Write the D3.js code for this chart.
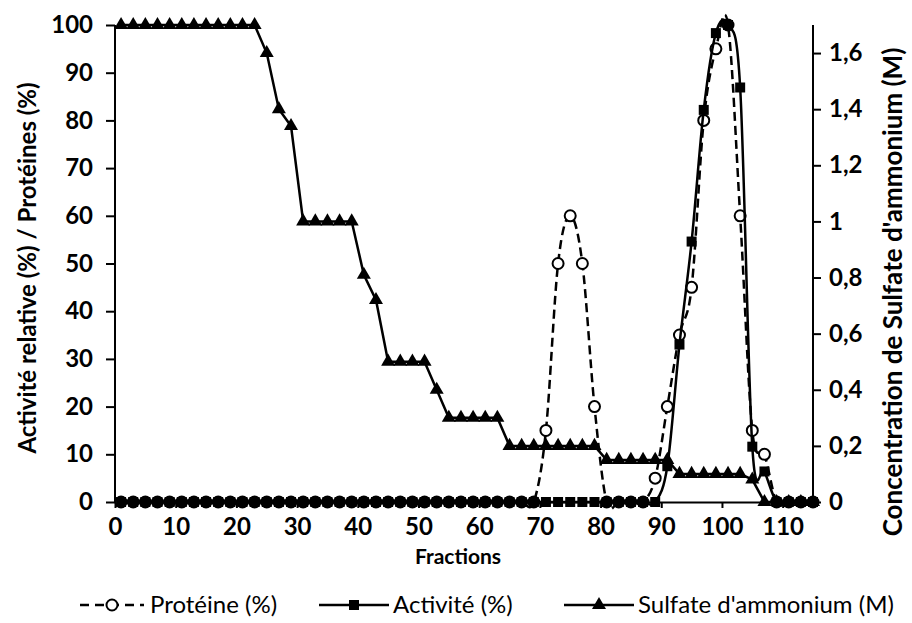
<!DOCTYPE html>
<html>
<head>
<meta charset="utf-8">
<script src="https://cdn.jsdelivr.net/npm/d3@7"></script>
<style>
  body { margin: 0; background: #fff; }
  text { font-family: Lato, "Open Sans", sans-serif; }
</style>
</head>
<body>
<div id="chart"></div>
<script>
// fractions (every second fraction was measured)
const fractions = [1, 3, 5, 7, 9, 11, 13, 15, 17, 19, 21, 23, 25, 27, 29, 31, 33, 35, 37, 39,
  41, 43, 45, 47, 49, 51, 53, 55, 57, 59, 61, 63, 65, 67, 69, 71, 73, 75, 77, 79,
  81, 83, 85, 87, 89, 91, 93, 95, 97, 99, 101, 103, 105, 107, 109, 111, 113, 115];

// Protéine (%)
const proteine = [0, 0, 0, 0, 0, 0, 0, 0, 0, 0, 0, 0, 0, 0, 0, 0, 0, 0, 0, 0,
  0, 0, 0, 0, 0, 0, 0, 0, 0, 0, 0, 0, 0, 0, 0, 15, 50, 60, 50, 20,
  0, 0, 0, 0, 5, 20, 35, 45, 80, 95, 100, 60, 15, 10, 0, 0, 0, 0];

// Activité (%)
const activite = [0, 0, 0, 0, 0, 0, 0, 0, 0, 0, 0, 0, 0, 0, 0, 0, 0, 0, 0, 0,
  0, 0, 0, 0, 0, 0, 0, 0, 0, 0, 0, 0, 0, 0, 0, 0, 0, 0, 0, 0,
  0, 0, 0, 0, 0, 7.5, 33, 54.6, 82.2, 98.3, 100, 86.9, 11.6, 6.4, 0, 0, 0, 0];

// Sulfate d'ammonium (M)
const sulfate = [1.7, 1.7, 1.7, 1.7, 1.7, 1.7, 1.7, 1.7, 1.7, 1.7, 1.7, 1.7, 1.6, 1.4, 1.34, 1, 1, 1, 1, 1,
  0.81, 0.72, 0.5, 0.5, 0.5, 0.5, 0.4, 0.3, 0.3, 0.3, 0.3, 0.3, 0.2, 0.2, 0.2, 0.2, 0.2, 0.2, 0.2, 0.2,
  0.15, 0.15, 0.15, 0.15, 0.15, 0.15, 0.1, 0.1, 0.1, 0.1, 0.1, 0.1, 0.08, 0, 0, 0, 0, 0];

const xTicks = [0, 10, 20, 30, 40, 50, 60, 70, 80, 90, 100, 110];
const leftTicks = [0, 10, 20, 30, 40, 50, 60, 70, 80, 90, 100];
const rightTicks = [0, 0.2, 0.4, 0.6, 0.8, 1, 1.2, 1.4, 1.6];

const W = 912, H = 623;
const pLeft = 115, pRight = 813, pTop = 25, pBottom = 502;

const svg = d3.select("#chart").append("svg")
    .attr("width", W)
    .attr("height", H)
    .attr("viewBox", "0 0 " + W + " " + H);

const x = d3.scaleLinear().domain([0, 115]).range([pLeft, pRight]);
const yL = d3.scaleLinear().domain([0, 100]).range([pBottom, pTop]);
const yR = d3.scaleLinear().domain([0, 1.7]).range([pBottom, pTop]);

// french decimal comma, "1" instead of "1,0"
const frNum = d => String(+d.toFixed(1)).replace(".", ",");

//axes
let gx = svg.append("g")
    .attr("transform", "translate(0," + pBottom + ")")
    .call(d3.axisBottom(x).tickValues(xTicks).tickSize(6).tickSizeOuter(0).tickPadding(10));
let gl = svg.append("g")
    .attr("transform", "translate(" + pLeft + ",0)")
    .call(d3.axisLeft(yL).tickValues(leftTicks).tickSize(9).tickSizeOuter(0).tickPadding(13));
let gr = svg.append("g")
    .attr("transform", "translate(" + pRight + ",0)")
    .call(d3.axisRight(yR).tickValues(rightTicks).tickSize(8).tickSizeOuter(0).tickPadding(8)
        .tickFormat(frNum));

[gx, gl, gr].forEach(g => {
    g.selectAll("path, line").attr("stroke", "#000").attr("stroke-width", 2);
    g.selectAll("text")
        .attr("fill", "#000")
        .style("font-size", "24px")
        .style("font-weight", "bold");
});
// y axes lines span the whole plot height
gl.select(".domain").attr("d", "M0," + pBottom + "V" + pTop);
gr.select(".domain").attr("d", "M0," + pBottom + "V" + pTop);

//axis titles
svg.append("text")
    .attr("transform", "translate(36,268) rotate(-90)")
    .attr("text-anchor", "middle")
    .style("font-size", "24px").style("font-weight", "bold")
    .text("Activité relative (%) / Protéines (%)");

svg.append("text")
    .attr("transform", "translate(902,292) rotate(-90)")
    .attr("text-anchor", "middle")
    .style("font-size", "26px").style("font-weight", "bold")
    .text("Concentration de Sulfate d'ammonium (M)");

svg.append("text")
    .attr("x", 458)
    .attr("y", 564)
    .attr("text-anchor", "middle")
    .style("font-size", "21px").style("font-weight", "bold")
    .text("Fractions");

const smooth = d3.curveCardinal.tension(0);
const rows = fractions.map((f, i) => ({f: f, p: proteine[i], a: activite[i], s: sulfate[i]}));

//Protéine: dashed smoothed line, open circles
svg.append("path")
    .datum(rows)
    .attr("fill", "none").attr("stroke", "#000").attr("stroke-width", 2.5)
    .attr("stroke-dasharray", "9,5")
    .attr("d", d3.line().x(d => x(d.f)).y(d => yL(d.p)).curve(smooth));
svg.append("g").selectAll("circle")
    .data(rows).enter().append("circle")
    .attr("cx", d => x(d.f)).attr("cy", d => yL(d.p)).attr("r", 5.5)
    .attr("fill", "#fff").attr("stroke", "#000").attr("stroke-width", 2);

//Activité: smoothed line, squares
svg.append("path")
    .datum(rows)
    .attr("fill", "none").attr("stroke", "#000").attr("stroke-width", 2.5)
    .attr("d", d3.line().x(d => x(d.f)).y(d => yL(d.a)).curve(smooth));
svg.append("g").selectAll("rect")
    .data(rows).enter().append("rect")
    .attr("x", d => x(d.f) - 5).attr("y", d => yL(d.a) - 5)
    .attr("width", 10).attr("height", 10)
    .attr("fill", "#000");

//Sulfate: straight line, triangles
const tri = d3.symbol().type(d3.symbolTriangle).size(85);
svg.append("path")
    .datum(rows)
    .attr("fill", "none").attr("stroke", "#000").attr("stroke-width", 2.5)
    .attr("d", d3.line().x(d => x(d.f)).y(d => yR(d.s)));
svg.append("g").selectAll("path")
    .data(rows).enter().append("path")
    .attr("transform", d => "translate(" + x(d.f) + "," + yR(d.s) + ")")
    .attr("d", tri)
    .attr("fill", "#000");

//legend
const ly = 605;
const legend = svg.append("g");
legend.append("line").attr("x1", 80).attr("x2", 144).attr("y1", ly).attr("y2", ly)
    .attr("stroke", "#000").attr("stroke-width", 2.5).attr("stroke-dasharray", "9,6");
legend.append("circle").attr("cx", 112).attr("cy", ly).attr("r", 5.5)
    .attr("fill", "#fff").attr("stroke", "#000").attr("stroke-width", 2);
legend.append("text").attr("x", 150).attr("y", ly + 8).style("font-size", "24px").text("Protéine (%)");

legend.append("line").attr("x1", 319).attr("x2", 389).attr("y1", ly).attr("y2", ly)
    .attr("stroke", "#000").attr("stroke-width", 2.5);
legend.append("rect").attr("x", 349).attr("y", ly - 5).attr("width", 10).attr("height", 10).attr("fill", "#000");
legend.append("text").attr("x", 393).attr("y", ly + 8).style("font-size", "24px").text("Activité (%)");

legend.append("line").attr("x1", 564).attr("x2", 634).attr("y1", ly).attr("y2", ly)
    .attr("stroke", "#000").attr("stroke-width", 2.5);
legend.append("path").attr("transform", "translate(599," + ly + ")").attr("d", tri).attr("fill", "#000");
legend.append("text").attr("x", 638).attr("y", ly + 8).style("font-size", "24px").text("Sulfate d'ammonium (M)");
</script>
</body>
</html>
